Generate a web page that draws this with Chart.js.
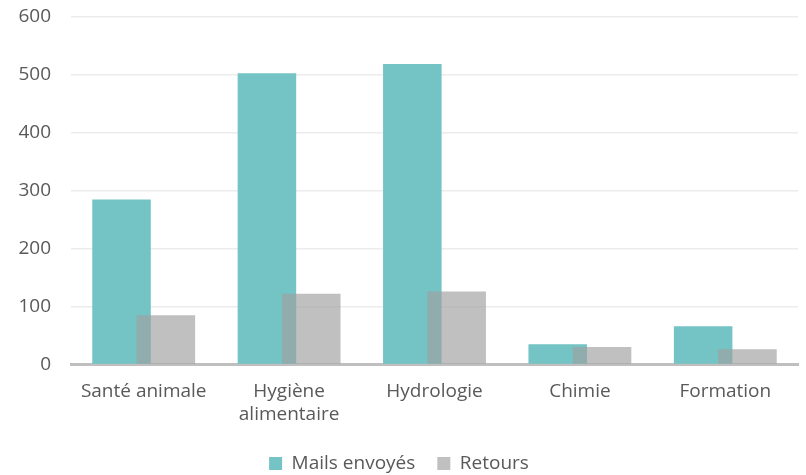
<!DOCTYPE html>
<html>
<head>
<meta charset="utf-8">
<script src="https://cdn.jsdelivr.net/npm/chart.js@4/dist/chart.umd.min.js"></script>
<style>
  html, body { margin: 0; padding: 0; background: #fff; }
  #wrap { width: 806px; height: 475px; }
</style>
</head>
<body>
<div id="wrap"><canvas id="chart" width="806" height="475"></canvas></div>
<script>
// categories and series
const categories = ["Santé animale", ["Hygiène", "alimentaire"], "Hydrologie", "Chimie", "Formation"];
const mailsEnvoyes = [285, 503, 519, 35, 66];
const retours = [85, 122, 126, 30, 26];
const yTicks = [0, 100, 200, 300, 400, 500, 600];

const textColor = "#595959";
const fontFamily = "Open Sans";
const fontSize = 19;

// Chart.js paints the first dataset last; here the grey bars must cover the teal ones,
// so the teal dataset is painted by hand before the others
const tealUnder = {
  id: "tealUnder",
  beforeDatasetsDraw(chart) {
    chart.getDatasetMeta(0).controller.draw();
  },
  beforeDatasetDraw(chart, args) {
    if (args.index === 0) return false;
  }
};

let myChart = new Chart(document.getElementById("chart"), {
  type: "bar",
  plugins: [tealUnder],
  data: {
    labels: categories,
    datasets: [
      {
        label: "Mails envoyés",
        data: mailsEnvoyes,
        backgroundColor: "rgb(116,195,197)"
      },
      {
        label: "Retours",
        data: retours,
        backgroundColor: "rgba(160,160,160,0.66)"
      }
    ]
  },
  options: {
    responsive: false,
    animation: false,
    datasets: { bar: { barPercentage: 1.32, categoryPercentage: 0.61 } },
    layout: { padding: { left: 0, right: 8, top: 17, bottom: -8 } },
    scales: {
      x: {
        grid: { display: false, drawTicks: false },
        border: { color: "#bfbfbf", width: 3 },
        afterFit: (axis) => { axis.height -= 10; },
        ticks: {
          color: textColor,
          font: { family: fontFamily, size: fontSize },
          padding: 16,
          maxRotation: 0
        }
      },
      y: {
        min: 0,
        max: 600,
        afterBuildTicks: (axis) => { axis.ticks = yTicks.map(v => ({ value: v })); },
        afterFit: (axis) => { axis.width = 71; },
        // invisible tick marks give the gap between labels and plot
        // (ticks.padding would also push the plot area down)
        grid: { color: "#ececec", lineWidth: 1.5, drawTicks: true, tickLength: 20, tickColor: "rgba(0,0,0,0)" },
        border: { display: false },
        ticks: {
          color: textColor,
          font: { family: fontFamily, size: fontSize },
          padding: 0
        }
      }
    },
    plugins: {
      tooltip: { enabled: false },
      legend: {
        position: "bottom",
        labels: {
          color: textColor,
          font: { family: fontFamily, size: fontSize },
          boxWidth: 13,
          boxHeight: 13,
          padding: 22
        }
      }
    }
  }
});
</script>
</body>
</html>
